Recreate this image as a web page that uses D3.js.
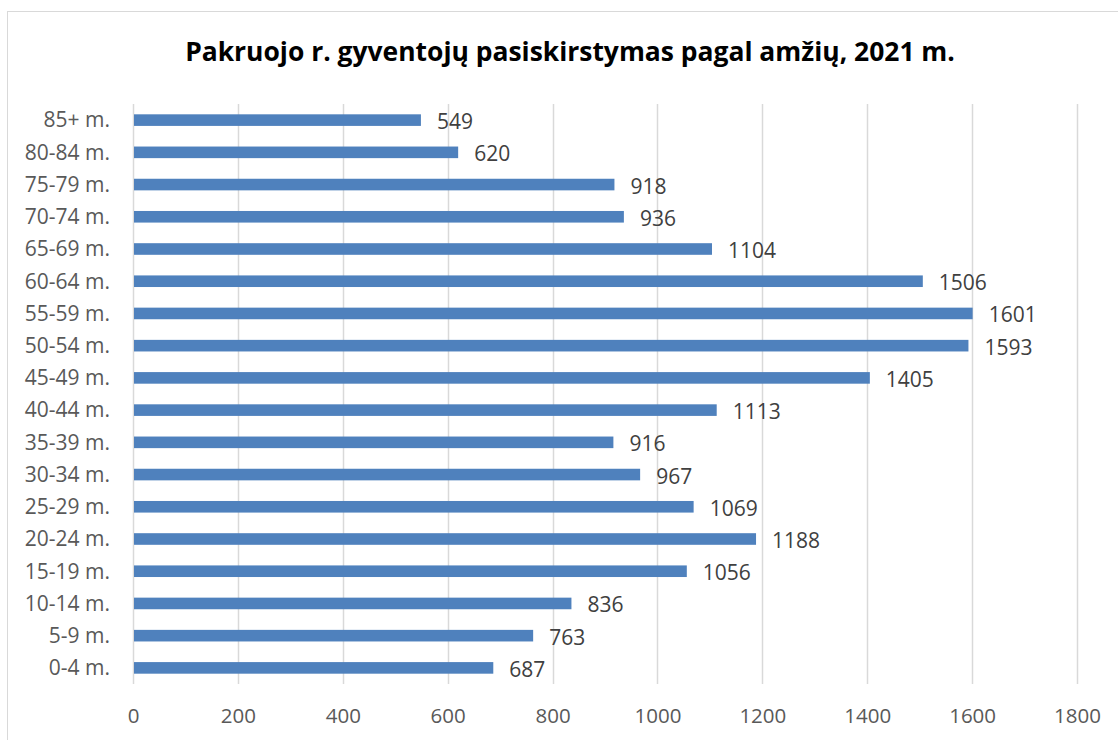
<!DOCTYPE html>
<html>
<head>
<meta charset="utf-8">
<script src="https://cdn.jsdelivr.net/npm/d3@7"></script>
<style>
  html, body { margin: 0; padding: 0; background: #fff; }
  svg { display: block; }
</style>
</head>
<body>
<svg id="chart" width="1118" height="740"></svg>
<script>
const title = "Pakruojo r. gyventojų pasiskirstymas pagal amžių, 2021 m.";
const categories = ["0-4 m.", "5-9 m.", "10-14 m.", "15-19 m.", "20-24 m.", "25-29 m.", "30-34 m.", "35-39 m.", "40-44 m.", "45-49 m.", "50-54 m.", "55-59 m.", "60-64 m.", "65-69 m.", "70-74 m.", "75-79 m.", "80-84 m.", "85+ m."];
const values = [687, 763, 836, 1056, 1188, 1069, 967, 916, 1113, 1405, 1593, 1601, 1506, 1104, 936, 918, 620, 549];
const xTicks = [0, 200, 400, 600, 800, 1000, 1200, 1400, 1600, 1800];

const svg = d3.select("#chart");
const font = "'Open Sans', 'Noto Sans', sans-serif";

// chart border
svg.append("rect")
  .attr("x", 7.5).attr("y", 11.5)
  .attr("width", 1200).attr("height", 800)
  .attr("fill", "#fff").attr("stroke", "#d9d9d9").attr("stroke-width", 1);

const plot = { left: 133, right: 1077, top: 104, bottom: 684 };

const x = d3.scaleLinear().domain([0, 1800]).range([plot.left, plot.right]);
const y = d3.scaleBand()
  .domain(categories.slice().reverse())
  .range([plot.top, plot.bottom])
  .paddingInner(0.64)
  .paddingOuter(0.32);

// gridlines
svg.append("g").selectAll("line").data(xTicks).join("line")
  .attr("x1", d => Math.round(x(d)) + 0.5)
  .attr("x2", d => Math.round(x(d)) + 0.5)
  .attr("y1", plot.top).attr("y2", plot.bottom)
  .attr("stroke", "#d9d9d9").attr("stroke-width", 1.5);

// bars
const data = categories.map((c, i) => ({ c, v: values[i] }));
svg.append("g").selectAll("rect").data(data).join("rect")
  .attr("x", x(0) + 1)
  .attr("y", d => y(d.c))
  .attr("width", d => x(d.v) - x(0) - 1)
  .attr("height", y.bandwidth())
  .attr("fill", "#4f81bd");

// value labels
svg.append("g").selectAll("text").data(data).join("text")
  .attr("x", d => x(d.v) + 16)
  .attr("y", d => y(d.c) + y.bandwidth() / 2 + 1)
  .attr("dominant-baseline", "central")
  .attr("font-family", font)
  .attr("font-size", 21)
  .attr("fill", "#404040")
  .text(d => d.v);

// y axis (category labels)
const yAxis = d3.axisLeft(y).tickSize(0).tickPadding(23);
const gy = svg.append("g").attr("transform", `translate(${plot.left},0)`).call(yAxis);
gy.select(".domain").remove();
gy.selectAll("text")
  .attr("font-family", font).attr("font-size", 21).attr("fill", "#595959")
  .attr("dy", "0.35em");

// x axis
const xAxis = d3.axisBottom(x).tickValues(xTicks).tickSize(0).tickPadding(24).tickFormat(d3.format("d"));
const gx = svg.append("g").attr("transform", `translate(0,${plot.bottom})`).call(xAxis);
gx.select(".domain").remove();
gx.selectAll("text")
  .attr("font-family", font).attr("font-size", 20.5).attr("fill", "#595959");

// title
const t = svg.append("text")
  .attr("x", 570).attr("y", 61)
  .attr("text-anchor", "middle")
  .attr("font-family", font)
  .attr("font-weight", "bold")
  .attr("font-size", 24)
  .attr("fill", "#000")
  .text(title);
const w = t.node().getComputedTextLength();
t.attr("font-size", 24 * 770 / w);
</script>
</body>
</html>
